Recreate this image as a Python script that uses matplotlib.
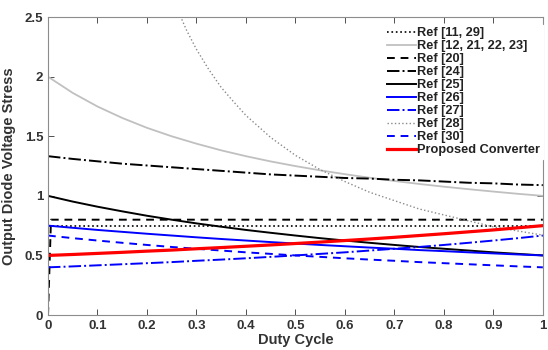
import numpy as np
import matplotlib
matplotlib.use("Agg")
import matplotlib.pyplot as plt

plt.rcParams['font.family'] = ['Liberation Sans', 'DejaVu Sans']
plt.rcParams['font.weight'] = 'bold'

# duty cycle grid (read every 0.05)
duty = [0, 0.05, 0.1, 0.15, 0.2, 0.25, 0.3, 0.35, 0.4, 0.45, 0.5,
        0.55, 0.6, 0.65, 0.7, 0.75, 0.8, 0.85, 0.9, 0.95, 1.0]

ref_11_29_d = [0, 1]
ref_11_29 = [0.75, 0.75]
ref_12_21 = [2.0, 1.864, 1.75, 1.654, 1.571, 1.5, 1.438, 1.382, 1.333, 1.289, 1.25,
             1.214, 1.182, 1.152, 1.125, 1.1, 1.077, 1.056, 1.036, 1.017, 1.0]
ref_20_d = [0, 0.006, 1]
ref_20 = [0, 0.8, 0.8]
ref_24 = [1.333, 1.31, 1.29, 1.27, 1.255, 1.24, 1.225, 1.21, 1.195, 1.18, 1.17,
          1.16, 1.15, 1.145, 1.135, 1.13, 1.12, 1.11, 1.105, 1.095, 1.09]
ref_25 = [1.0, 0.952, 0.909, 0.870, 0.833, 0.8, 0.769, 0.741, 0.714, 0.690, 0.667,
          0.645, 0.625, 0.606, 0.588, 0.571, 0.556, 0.541, 0.526, 0.513, 0.5]
ref_26 = [0.75, 0.732, 0.714, 0.698, 0.682, 0.667, 0.652, 0.638, 0.625, 0.612, 0.6,
          0.588, 0.577, 0.566, 0.556, 0.545, 0.536, 0.526, 0.517, 0.508, 0.5]
ref_27 = [0.4, 0.408, 0.417, 0.426, 0.435, 0.444, 0.455, 0.465, 0.476, 0.488, 0.5,
          0.513, 0.526, 0.541, 0.556, 0.571, 0.588, 0.606, 0.625, 0.645, 0.667]
ref_28_d = [0.25, 0.26, 0.28, 0.30, 0.325, 0.35, 0.375, 0.4, 0.45, 0.5, 0.55,
            0.6, 0.65, 0.7, 0.75, 0.8, 0.85, 0.9, 0.95, 1.0]
ref_28 = [2.68, 2.58, 2.39, 2.23, 2.06, 1.91, 1.79, 1.675, 1.49, 1.34, 1.22,
          1.12, 1.03, 0.96, 0.89, 0.84, 0.79, 0.74, 0.705, 0.67]
ref_30 = [0.667, 0.645, 0.625, 0.606, 0.588, 0.571, 0.556, 0.541, 0.526, 0.513, 0.5,
          0.488, 0.476, 0.465, 0.455, 0.444, 0.435, 0.426, 0.417, 0.408, 0.4]
proposed = [0.5, 0.508, 0.517, 0.526, 0.536, 0.545, 0.556, 0.566, 0.577, 0.588, 0.6,
            0.612, 0.625, 0.638, 0.652, 0.667, 0.682, 0.698, 0.714, 0.732, 0.75]

xticks = [0, 0.1, 0.2, 0.3, 0.4, 0.5, 0.6, 0.7, 0.8, 0.9, 1]
xticklabels = ['0', '0.1', '0.2', '0.3', '0.4', '0.5', '0.6', '0.7', '0.8', '0.9', '1']
yticks = [0, 0.5, 1, 1.5, 2, 2.5]
yticklabels = ['0', '0.5', '1', '1.5', '2', '2.5']

fig = plt.figure(figsize=(5.48, 3.5), dpi=100)
ax = fig.add_axes([0.0876, 0.1, 0.9030, 0.851])

ax.plot(ref_11_29_d, ref_11_29, color='black', ls=':', lw=1.2, label='Ref [11, 29]')
ax.plot(duty, ref_12_21, color='#c0c0c0', ls='-', lw=1.3, label='Ref [12, 21, 22, 23]')
ax.plot(ref_20_d, ref_20, color='black', ls=(0, (4, 3)), lw=1.4, label='Ref [20]')
ax.plot(duty, ref_24, color='black', ls='-.', lw=1.4, label='Ref [24]')
ax.plot(duty, ref_25, color='black', ls='-', lw=1.4, label='Ref [25]')
ax.plot(duty, ref_26, color='#0000ff', ls='-', lw=1.4, label='Ref [26]')
ax.plot(duty, ref_27, color='#0000ff', ls='-.', lw=1.4, label='Ref [27]')
ax.plot(ref_28_d, ref_28, color='#8a8a8a', ls=':', lw=1.0, label='Ref [28]')
ax.plot(duty, ref_30, color='#0000ff', ls=(0, (4, 3)), lw=1.4, label='Ref [30]')
ax.plot(duty, proposed, color='#ff0000', ls='-', lw=2.3, label='Proposed Converter')

ax.set_xlim(0, 1)
ax.set_ylim(0, 2.5)
ax.set_xticks(xticks)
ax.set_xticklabels(xticklabels)
ax.set_yticks(yticks)
ax.set_yticklabels(yticklabels)
ax.tick_params(direction='in', top=True, right=True, length=4, colors='#333333',
               labelsize=9.5, width=0.6)
for lbl in ax.get_xticklabels() + ax.get_yticklabels():
    lbl.set_fontweight('bold')
for s in ax.spines.values():
    s.set_color('#8c8c8c')
    s.set_linewidth(0.8)

ax.set_xlabel('Duty Cycle', fontsize=10.5, fontweight='bold', color='#333333', labelpad=1)
ax.set_ylabel('Output Diode Voltage Stress', fontsize=10.5, fontweight='bold',
              color='#333333', labelpad=6)

leg = ax.legend(loc='upper right', bbox_to_anchor=(1.0, 0.975), fontsize=9.2,
                frameon=True, fancybox=False, handlelength=2.3, handletextpad=0.1,
                labelspacing=0.08, borderaxespad=0.0, borderpad=0.2)
leg.get_frame().set_edgecolor('white')
leg.get_frame().set_alpha(1)
for t in leg.get_texts():
    t.set_fontweight('bold')
    t.set_color('#222222')

fig.savefig('out.png', dpi=100)
